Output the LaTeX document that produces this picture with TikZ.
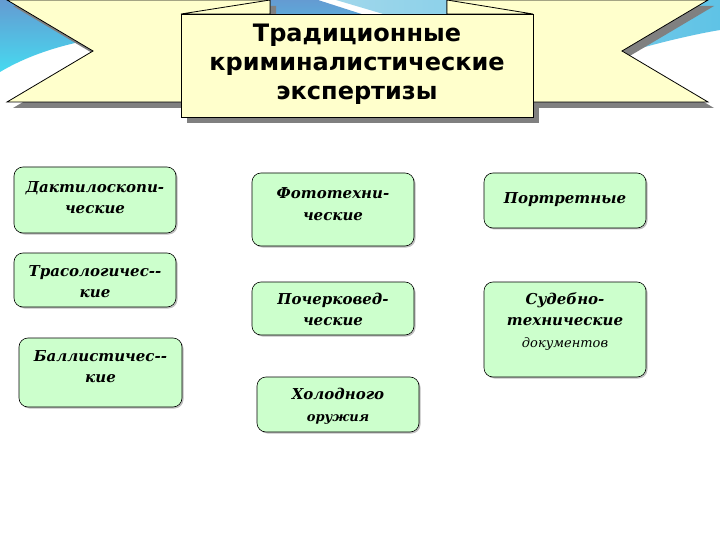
\documentclass[tikz,border=0pt]{standalone}
\usepackage{fontspec}
\setmainfont{Liberation Serif}
\newfontfamily\titlefont{DejaVu Sans}
\newfontfamily\boxfont{DejaVu Serif}
\usetikzlibrary{shadows}
\definecolor{ribbonY}{RGB}{255, 255, 204}
\definecolor{boxG}{RGB}{204, 255, 204}
\definecolor{shadowG}{RGB}{128, 128, 128}
\definecolor{skyA}{RGB}{100, 155, 210}
\definecolor{skyB}{RGB}{70, 218, 240}
\definecolor{skyC}{RGB}{160, 215, 235}
\definecolor{skyD}{RGB}{95, 195, 230}
\tikzset{
  % Лента
  ribbon/.style       = {fill=ribbonY, draw=black, line width=0.8pt, line join=miter},
  ribbonshadow/.style = {fill=shadowG},
  titlebox/.style     = {rectangle, fill=ribbonY, draw=black, line width=0.8pt,
                         minimum width=352pt, minimum height=103pt, inner sep=0pt},
  titletext/.style    = {font=\titlefont\bfseries\fontsize{24}{29}\selectfont,
                         align=center, inner sep=0pt},
  % Блоки
  exbox/.style  = {rectangle, rounded corners=9pt, fill=boxG, draw=black,
                   line width=0.6pt, minimum width=162pt, inner sep=0pt,
                   drop shadow={shadow xshift=1.5pt, shadow yshift=-1.5pt,
                                opacity=0.25, fill=black}},
  extext/.style = {font=\boxfont\bfseries\itshape\fontsize{15}{21.5}\selectfont,
                   align=center, inner sep=0pt},
}
\begin{document}
\begin{tikzpicture}[x=1pt, y=-1pt]
  \useasboundingbox (0,0) rectangle (720,540);
  % Фон
  \fill[white] (0,0) rectangle (720,540);
  \shade[top color=skyA, bottom color=skyB]
    (0,0) -- (318,0) -- (374,18) .. controls (250,25) and (120,35) .. (75,43)
    .. controls (45,50) and (20,60) .. (0,72) -- cycle;
  \shade[left color=skyC, right color=skyD]
    (336,0) -- (720,0) -- (720,30) .. controls (690,35) and (650,45) .. (628,52)
    -- (450,40) -- (390,16) -- cycle;
  % Тень ленты
  \begin{scope}[shift={(6,6)}]
    \fill[ribbonshadow] (7,0) -- (270,0) -- (270,102) -- (7,102) -- (93,51) -- cycle;
    \fill[ribbonshadow] (447,0) -- (708,0) -- (622,51) -- (708,102) -- (447,102) -- cycle;
    \fill[ribbonshadow] (181,14) rectangle (533,117);
  \end{scope}
  % Лента
  \draw[ribbon] (7,0) -- (270,0) -- (270,102) -- (7,102) -- (93,51) -- cycle;
  \draw[ribbon] (447,0) -- (708,0) -- (622,51) -- (708,102) -- (447,102) -- cycle;
  \draw[ribbon] (181,14) -- (270,0) -- (270,14) -- cycle;
  \draw[ribbon] (447,14) -- (447,0) -- (533,14) -- cycle;
  % Заголовок
  \node[titlebox] (title) at (357,65.5) {};
  \node[titletext] (title-t) at (357,64)
    {Традиционные\\криминалистические\\экспертизы};
  % Левый столбец
  \node[exbox, minimum height=66pt] (dakt) at (95,200) {};
  \node[extext] (dakt-t) at (95,197.5) {Дактилоскопи-\\ческие};
  \node[exbox, minimum height=54pt] (traso) at (95,280) {};
  \node[extext] (traso-t) at (95,281.5) {Трасологичес{-}{-}\\кие};
  \node[exbox, minimum height=69pt, minimum width=163pt] (ballist) at (100.5,372.5) {};
  \node[extext] (ballist-t) at (100.5,366.5) {Баллистичес{-}{-}\\кие};
  % Средний столбец
  \node[exbox, minimum height=73pt] (foto) at (333,209.5) {};
  \node[extext] (foto-t) at (333,204) {Фототехни-\\ческие};
  \node[exbox, minimum height=53pt] (pocherk) at (333,308.5) {};
  \node[extext] (pocherk-t) at (333,309.5) {Почерковед-\\ческие};
  \node[exbox, minimum height=55pt] (holod) at (338,404.5) {};
  \node[extext] (holod-t) at (338,406) {Холодного\\{\fontsize{13}{20}\selectfont оружия}};
  % Правый столбец
  \node[exbox, minimum height=55pt] (portret) at (565,200.5) {};
  \node[extext] (portret-t) at (565,200) {Портретные};
  \node[exbox, minimum height=95pt] (sudeb) at (565,329.5) {};
  \node[extext] (sudeb-t) at (565,321.5)
    {Судебно-\\технические\\{\mdseries\fontsize{13}{20}\selectfont документов}};
\end{tikzpicture}
\end{document}
